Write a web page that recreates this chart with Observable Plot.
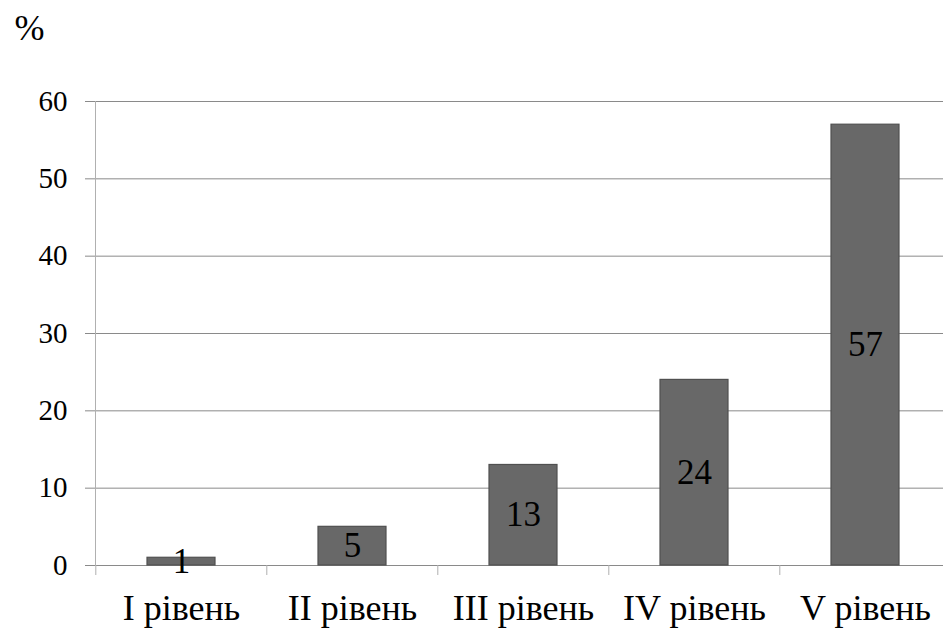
<!DOCTYPE html>
<html>
<head>
<meta charset="utf-8">
<script src="https://cdn.jsdelivr.net/npm/d3@7"></script>
<script src="https://cdn.jsdelivr.net/npm/@observablehq/plot@0.6"></script>
<style>
  html, body { margin: 0; padding: 0; background: #fff; }
  #chart svg { display: block; }
</style>
</head>
<body>
<div id="chart"></div>
<script>
const categories = ["I рівень", "II рівень", "III рівень", "IV рівень", "V рівень"];
const values = [1, 5, 13, 24, 57];
const yTicks = [0, 10, 20, 30, 40, 50, 60];
const yUnit = "%";

const data = categories.map((c, i) => ({category: c, value: values[i]}));
const serif = "Liberation Serif, Times New Roman, serif";

const chart = Plot.plot({
  width: 943,
  height: 628,
  marginLeft: 95,
  marginTop: 101,
  marginBottom: 63,
  marginRight: 0,
  style: {background: "#fff", color: "#000"},
  x: {domain: categories, range: [95, 952], paddingInner: 0.6, paddingOuter: 0.3},
  y: {domain: [0, 60], ticks: yTicks},
  marks: [
    Plot.gridY(yTicks, {stroke: "#8a8a8a", strokeOpacity: 1, strokeWidth: 1}),
    Plot.axisY(yTicks, {tickSize: 10, tickPadding: 18, stroke: "#8a8a8a", fontSize: 29, fill: "#000", label: null, fontFamily: serif}),
    Plot.frame({anchor: "left", stroke: "#b0b0b0"}),
    Plot.axisX({tickSize: 10, dx: -85.7, text: null, stroke: "#b0b0b0", label: null}),
    Plot.axisX({tickSize: 0, tickPadding: 29, fontSize: 36, fill: "#000", label: null, fontFamily: serif}),
    Plot.barY(data, {x: "category", y: "value", fill: "#686868", stroke: "#505050", strokeWidth: 1.2}),
    Plot.text(data, {x: "category", y: d => d.value / 2, text: d => String(d.value), fontSize: 35, fill: "#000", fontFamily: serif}),
    Plot.text([yUnit], {frameAnchor: "top-left", text: d => d, textAnchor: "middle", lineAnchor: "middle", dx: -66, dy: -73, fontSize: 36, fill: "#000", fontFamily: serif})
  ]
});
document.getElementById("chart").appendChild(chart);
</script>
</body>
</html>
